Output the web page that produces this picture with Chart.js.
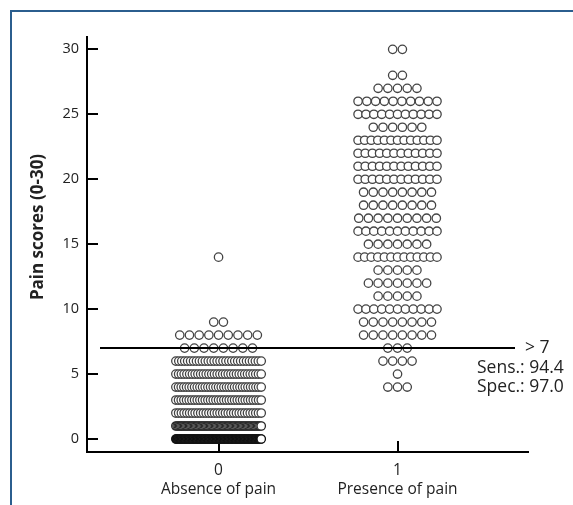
<!DOCTYPE html>
<html><head><meta charset="utf-8">
<script src="https://cdn.jsdelivr.net/npm/chart.js@4/dist/chart.umd.min.js"></script>
<style>
html,body{margin:0;padding:0;background:#fff;}
#wrap{position:relative;width:573px;height:505px;overflow:hidden;}
#frame{position:absolute;left:10px;top:10px;width:620px;height:620px;border-top:2px solid #2b5e8e;border-left:2px solid #2b5e8e;}
#c{position:absolute;left:0;top:0;}
</style></head><body>
<div id="wrap"><div id="frame"></div><canvas id="c" width="573" height="505"></canvas></div>
<script>
// ---- data ----
const groupValues = [0, 1];
const groupNames = ["Absence of pain", "Presence of pain"];
const scoresAbsent = [0, 1, 2, 3, 4, 5, 6, 7, 8, 9, 14];
const countsAbsent = [150, 70, 32, 33, 33, 32, 30, 8, 9, 2, 1];
const scoresPresent = [4, 5, 6, 7, 8, 9, 10, 11, 12, 13, 14, 15, 16, 17, 18, 19, 20, 21, 22, 23, 24, 25, 26, 27, 28, 30];
const countsPresent = [3, 1, 4, 3, 8, 8, 11, 5, 7, 5, 13, 7, 11, 9, 8, 8, 12, 12, 12, 13, 6, 11, 10, 5, 2, 2];
const yTicks = [0, 5, 10, 15, 20, 25, 30];
const cutoff = 7;
const cutoffLabel = "> 7";
const statLabels = ["Sens.: 94.4", "Spec.: 97.0"];
const yTitle = "Pain scores (0-30)";

// ---- dot-plot layout (data units) ----
function swarm(center, scores, counts, maxSpan) {
  const step = 0.0542;
  const pts = [];
  scores.forEach((s, k) => {
    const n = counts[k];
    const st = n > 1 ? Math.min(step, maxSpan / (n - 1)) : 0;
    for (let i = 0; i < n; i++) pts.push({ x: center + (i - (n - 1) / 2) * st, y: s, n: n });
  });
  return pts;
}
const ptsAbsent = swarm(groupValues[0], scoresAbsent, countsAbsent, 0.477);
const ptsPresent = swarm(groupValues[1], scoresPresent, countsPresent, 0.441);

const FONT = "'Open Sans', 'Noto Sans', sans-serif";

const decor = {
  id: 'decor',
  beforeDatasetsDraw(chart) {
    const { ctx, scales: { x, y }, chartArea: a } = chart;
    ctx.save();
    ctx.strokeStyle = '#000';
    ctx.lineWidth = 2;
    yTicks.forEach(v => {
      const py = Math.round(y.getPixelForValue(v));
      ctx.beginPath(); ctx.moveTo(a.left, py); ctx.lineTo(a.left + 11, py); ctx.stroke();
    });
    groupValues.forEach(v => {
      const px = Math.round(x.getPixelForValue(v));
      ctx.beginPath(); ctx.moveTo(px, a.bottom); ctx.lineTo(px, a.bottom - 11); ctx.stroke();
    });
    ctx.restore();
  },
  afterDatasetsDraw(chart) {
    const { ctx, scales: { x, y }, chartArea: a } = chart;
    ctx.save();
    const py = y.getPixelForValue(cutoff);
    const x0 = a.left + 13, x1 = a.right - 13;
    ctx.strokeStyle = '#000';
    ctx.lineWidth = 2;
    ctx.beginPath(); ctx.moveTo(x0, py); ctx.lineTo(x1, py); ctx.stroke();
    ctx.fillStyle = '#222';
    ctx.font = "17.5px " + FONT;
    ctx.textBaseline = 'middle';
    ctx.textAlign = 'left';
    ctx.fillText(cutoffLabel, x1 + 10, py);
    statLabels.forEach((t, i) => ctx.fillText(t, a.right - 51, py + 20 + i * 19));
    // y title
    ctx.font = "bold 17px " + FONT;
    ctx.translate(38, 227);
    ctx.rotate(-Math.PI / 2);
    ctx.textAlign = 'center';
    ctx.fillText(yTitle, 0, 0);
    ctx.restore();
  }
};

// denser rows read darker, as in the original print
const ringColor = c => {
  const n = c.raw ? c.raw.n : 1;
  return n >= 120 ? '#111' : n >= 60 ? '#2a2a2a' : '#444';
};
const dotStyle = { pointRadius: 4.2, pointBorderWidth: 1.3, backgroundColor: '#fff', pointBackgroundColor: '#fff', pointBorderColor: ringColor, borderColor: '#444' };

new Chart(document.getElementById('c'), {
  type: 'scatter',
  data: {
    datasets: [
      Object.assign({ data: ptsAbsent }, dotStyle),
      Object.assign({ data: ptsPresent }, dotStyle)
    ]
  },
  options: {
    responsive: false,
    animation: false,
    events: [],
    layout: { padding: { left: 0, top: 37, right: 45, bottom: 0 } },
    plugins: { legend: { display: false }, tooltip: { enabled: false } },
    scales: {
      x: {
        type: 'linear', min: -0.735, max: 1.729,
        afterBuildTicks: s => { s.ticks = groupValues.map(v => ({ value: v })); },
        afterFit: s => { s.height = 53; },
        grid: { display: false, drawTicks: false },
        border: { display: true, color: '#000', width: 2 },
        ticks: {
          padding: 9, color: '#222', maxRotation: 0, autoSkip: false,
          font: { family: FONT, size: 15.5, lineHeight: 1.25 },
          callback: v => [String(v), groupNames[groupValues.indexOf(v)]]
        }
      },
      y: {
        type: 'linear', min: -1, max: 30.95,
        afterBuildTicks: s => { s.ticks = yTicks.map(v => ({ value: v })); },
        afterFit: s => { s.width = 87; },
        grid: { display: false, drawTicks: false },
        border: { display: true, color: '#000', width: 2 },
        ticks: { padding: 8, color: '#222', font: { family: FONT, size: 14.5 } }
      }
    }
  },
  plugins: [decor]
});
</script>
</body></html>
